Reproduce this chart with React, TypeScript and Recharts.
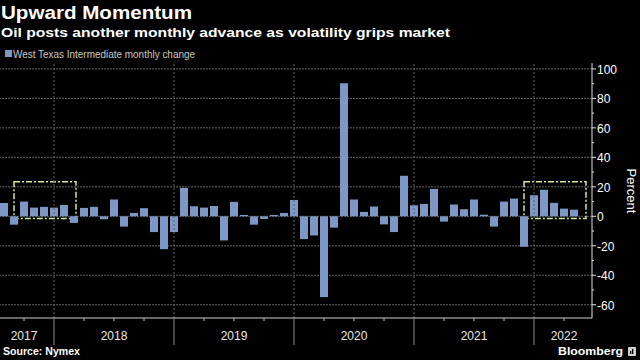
import React from 'react'
import { BarChart, Bar, XAxis, YAxis, CartesianGrid, ReferenceLine, ReferenceArea } from 'recharts'

// monthly bars, Jul 2017 - Apr 2022
const months = [
  '2017-07', '2017-08', '2017-09', '2017-10', '2017-11', '2017-12',
  '2018-01', '2018-02', '2018-03', '2018-04', '2018-05', '2018-06',
  '2018-07', '2018-08', '2018-09', '2018-10', '2018-11', '2018-12',
  '2019-01', '2019-02', '2019-03', '2019-04', '2019-05', '2019-06',
  '2019-07', '2019-08', '2019-09', '2019-10', '2019-11', '2019-12',
  '2020-01', '2020-02', '2020-03', '2020-04', '2020-05', '2020-06',
  '2020-07', '2020-08', '2020-09', '2020-10', '2020-11', '2020-12',
  '2021-01', '2021-02', '2021-03', '2021-04', '2021-05', '2021-06',
  '2021-07', '2021-08', '2021-09', '2021-10', '2021-11', '2021-12',
  '2022-01', '2022-02', '2022-03', '2022-04',
]

const wtiChange = [
  9.0, -5.7, 10.0, 5.9, 6.4, 5.9,
  7.7, -4.5, 5.7, 6.4, -2.0, 11.4, -7.0, 2.3, 5.5, -10.7, -22.3, -10.7,
  19.3, 6.8, 5.9, 7.0, -16.4, 9.8, 0.9, -5.7, -1.8, 0.9, 2.3, 11.1,
  -15.5, -13.0, -54.8, -7.7, 90.2, 11.4, 3.0, 6.6, -5.5, -10.7, 27.5, 7.5,
  8.4, 18.6, -3.6, 8.0, 4.8, 11.4, 1.1, -7.0, 10.0, 12.0, -20.7, 14.3,
  18.0, 9.1, 5.2, 4.5,
]

const quarterTicks = months.filter((m) => ['03', '06', '09', '12'].includes(m.slice(5)))
const yearEnds = ['2017-12', '2018-12', '2019-12', '2020-12', '2021-12']
const yearLabels: Record<string, string> = {
  '2017-09': '2017',
  '2018-06': '2018',
  '2019-06': '2019',
  '2020-06': '2020',
  '2021-06': '2021',
  '2022-03': '2022',
}

const percentTicks = [-60, -50, -40, -30, -20, -10, 0, 10, 20, 30, 40, 50, 60, 70, 80, 90, 100]
const gridValues = [-60, -40, -20, 0, 20, 40, 60, 80, 100]

// runs of five straight monthly gains
const streaks = [
  { from: '2017-09', to: '2018-01' },
  { from: '2021-12', to: '2022-04' },
]

const data = months.map((month, i) => ({ month, change: wtiChange[i] }))

const BAR = '#7d98c4'
const FONT = '"Liberation Sans", Arial, sans-serif'

const MonthTick = (props: any) => {
  const { x, y, payload } = props
  const m = payload.value as string
  const yearEnd = yearEnds.includes(m)
  const label = yearLabels[m]
  return (
    <g>
      <line x1={x} x2={x} y1={y} y2={y + (yearEnd ? 27 : 3)} stroke={yearEnd ? '#8c8c8c' : '#bdbdbd'} />
      {label && (
        <text x={x} y={y + 22} textAnchor="middle" fill="#e8e8e8" fontSize={12} fontFamily={FONT}>
          {label}
        </text>
      )}
    </g>
  )
}

const PercentTick = (props: any) => {
  const { x, y, payload } = props
  const v = payload.value as number
  const major = v % 20 === 0
  return (
    <g>
      <line x1={x} x2={x + (major ? 4 : 2)} y1={y} y2={y} stroke="#e0e0e0" />
      {major && (
        <text x={x + 5} y={y + 5} fill="#ffffff" fontSize={12} fontFamily={FONT}>
          {v}
        </text>
      )}
    </g>
  )
}

const StreakBox = (props: any) => {
  const { x, y, width, height } = props
  return (
    <rect
      x={x - 5}
      y={y}
      width={width + 12}
      height={height}
      fill="none"
      stroke="#d2e69e"
      strokeWidth={1.5}
      strokeDasharray="6 2 2 2"
    />
  )
}

export default function App() {
  return (
    <div style={{ position: 'absolute', left: 0, top: 0, width: 640, height: 360, background: '#000', overflow: 'hidden' }}>
      <BarChart width={640} height={360} data={data} margin={{ top: 63, right: 0, bottom: 12, left: -1 }}>
        <CartesianGrid vertical={false} horizontalValues={gridValues} stroke="#626262" strokeDasharray="2 1" />
        {yearEnds.map((m) => (
          <ReferenceLine key={m} x={m} stroke="#626262" strokeDasharray="2 2" />
        ))}
        <XAxis
          dataKey="month"
          ticks={quarterTicks}
          interval={0}
          height={30}
          tickSize={0}
          tickMargin={0}
          tickLine={false}
          tick={<MonthTick />}
          axisLine={{ stroke: '#cfcfcf' }}
          padding={{ left: 0, right: 13 }}
        />
        <YAxis
          orientation="right"
          width={48}
          domain={[-69, 104]}
          ticks={percentTicks}
          interval={0}
          tickSize={0}
          tickMargin={0}
          tickLine={false}
          tick={<PercentTick />}
          axisLine={{ stroke: '#e0e0e0' }}
        />
        <Bar dataKey="change" fill={BAR} barSize={8} isAnimationActive={false} />
        {streaks.map((s) => (
          <ReferenceArea key={s.from} x1={s.from} x2={s.to} y1={-1.5} y2={23.5} shape={<StreakBox />} />
        ))}
      </BarChart>
      <svg width={640} height={360} style={{ position: 'absolute', left: 0, top: 0, pointerEvents: 'none' }}>
        <text x={1} y={19} fill="#fff" fontSize={18} fontWeight="bold" fontFamily={FONT} textLength={191} lengthAdjust="spacingAndGlyphs">
          Upward Momentum
        </text>
        <text x={1} y={37} fill="#fff" fontSize={13.5} fontWeight="bold" fontFamily={FONT} textLength={449} lengthAdjust="spacingAndGlyphs">
          Oil posts another monthly advance as volatility grips market
        </text>
        <rect x={5} y={50} width={7} height={7} fill={BAR} />
        <text x={13} y={58} fill="#c8c8c8" fontSize={10} fontFamily={FONT} textLength={182} lengthAdjust="spacingAndGlyphs">
          West Texas Intermediate monthly change
        </text>
        <text x={627} y={191} fill="#fff" fontSize={13} fontFamily={FONT} textAnchor="middle" transform="rotate(90 627 191)">
          Percent
        </text>
        <text x={3} y={355} fill="#fff" fontSize={10.5} fontWeight="bold" fontFamily={FONT} textLength={77} lengthAdjust="spacingAndGlyphs">
          Source: Nymex
        </text>
        <text x={558} y={355} fill="#fff" fontSize={11.5} fontWeight="bold" fontFamily={FONT} textLength={65} lengthAdjust="spacingAndGlyphs">
          Bloomberg
        </text>
        <rect x={628} y={347} width={8} height={9} rx={1} fill="#d0d0d0" />
        <rect x={630} y={351} width={1.3} height={3} fill="#000" />
        <rect x={632} y={349} width={1.3} height={5} fill="#000" />
      </svg>
    </div>
  )
}
